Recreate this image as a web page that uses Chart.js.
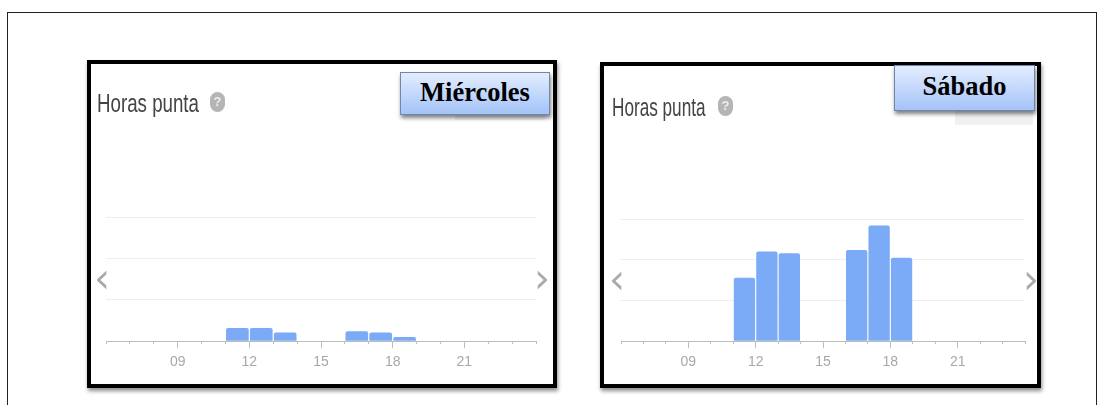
<!DOCTYPE html>
<html lang="es">
<head>
  <meta charset="UTF-8" />
  <title>Horas punta</title>
  <script src="https://cdn.jsdelivr.net/npm/chart.js"></script>
  <style>
    html, body { margin: 0; background: #fff; overflow: hidden; width: 1102px; height: 405px; }
    #marco { position: absolute; left: 7px; top: 12px; width: 1088px; height: 420px; border: 1px solid #222; }
    .panel { position: absolute; box-sizing: border-box; border: 4px solid #000; background: #fff; box-shadow: 1px 3px 4px rgba(0,0,0,.45); }
    .titulo { position: absolute; font-family: "Liberation Sans", sans-serif; font-size: 26px; color: #444; white-space: nowrap; filter: blur(.5px); transform-origin: left top; }
    .ayuda { position: absolute; width: 15px; height: 20px; border-radius: 8px; background: #b5b5b5; color: #eee; font: bold 13px/20px "Liberation Sans", sans-serif; text-align: center; filter: blur(.4px); }
    .flecha { position: absolute; font-family: "DejaVu Sans", sans-serif; font-size: 40px; line-height: 40px; color: #aaa; filter: blur(.3px); }
    .dia { position: absolute; box-sizing: border-box; border: 1px solid #6f87ad; background: linear-gradient(#e3edfe, #a4c3f8); box-shadow: 1px 3px 4px rgba(0,0,0,.5); font: bold 26.5px "Liberation Serif", serif; color: #000; text-align: center; }
    .resto { position: absolute; background: #f1f1f1; }
    canvas { position: absolute; filter: blur(.35px); }
  </style>
</head>
<body>
  <div id="marco"></div>

  <div class="panel" style="left:87px;top:60px;width:470px;height:328px"></div>
  <div class="titulo" style="left:97px;top:88px;transform:scaleX(.72)">Horas punta</div>
  <div class="ayuda" style="left:210px;top:92px">?</div>
  <canvas id="graficoMiercoles" width="456" height="170"></canvas>
  <div class="flecha" style="left:94px;top:258px">‹</div>
  <div class="flecha" style="left:534px;top:258px">›</div>
  <div class="resto" style="left:455px;top:112px;width:90px;height:8px"></div>
  <div class="dia" style="left:400px;top:72px;width:150px;height:43px;line-height:39px">Miércoles</div>

  <div class="panel" style="left:600px;top:62px;width:441px;height:326px"></div>
  <div class="titulo" style="left:612px;top:92px;transform:scaleX(.66)">Horas punta</div>
  <div class="ayuda" style="left:718px;top:96px">?</div>
  <canvas id="graficoSabado" width="430" height="168"></canvas>
  <div class="flecha" style="left:609px;top:259px">‹</div>
  <div class="flecha" style="left:1023px;top:259px">›</div>
  <div class="resto" style="left:955px;top:108px;width:78px;height:17px"></div>
  <div class="dia" style="left:894px;top:65px;width:141px;height:46px;line-height:40px">Sábado</div>

  <script>
    const horas = [6, 7, 8, 9, 10, 11, 12, 13, 14, 15, 16, 17, 18, 19, 20, 21, 22, 23];
    const miercoles = [0, 0, 0, 0, 0, 0.32, 0.32, 0.21, 0, 0, 0.24, 0.21, 0.1, 0, 0, 0, 0, 0];
    const sabado = [0, 0, 0, 0, 0, 1.56, 2.2, 2.16, 0, 0, 2.24, 2.84, 2.05, 0, 0, 0, 0, 0];
    const etiquetas = { 9: '09', 12: '12', 15: '15', 18: '18', 21: '21' };

    function crearGrafico(id, valores, left, top) {
      const canvas = document.getElementById(id);
      canvas.style.left = left + 'px';
      canvas.style.top = top + 'px';
      return new Chart(canvas, {
        type: 'bar',
        data: {
          datasets: [{
            // cada barra ocupa su hora entera
            data: horas.map((h, i) => ({ x: h + 0.5, y: valores[i] })),
            backgroundColor: '#7baaf7',
            borderRadius: { topLeft: 2, topRight: 2 },
            borderSkipped: 'bottom',
            barPercentage: 1,
            categoryPercentage: 0.95
          }]
        },
        options: {
          responsive: false,
          animation: false,
          layout: { padding: { top: 10, right: 20, left: 0, bottom: 0 } },
          plugins: { legend: { display: false }, tooltip: { enabled: false } },
          scales: {
            x: {
              type: 'linear',
              min: 6,
              max: 24,
              offset: false,
              grid: {
                offset: false,
                drawOnChartArea: false,
                tickLength: 7,
                tickColor: '#bdbdbd',
                // las horas sin etiqueta llevan una marca corta
                tickBorderDash: c => (c.tick && etiquetas[c.tick.value] ? [] : [2, 10])
              },
              border: { color: '#bdbdbd', width: 1 },
              ticks: {
                stepSize: 1,
                autoSkip: false,
                maxRotation: 0,
                padding: 6,
                color: '#a8a8a8',
                font: { family: '"Liberation Sans", sans-serif', size: 14 },
                callback: v => etiquetas[v] || ''
              }
            },
            y: {
              min: 0,
              max: 3,
              grid: { color: '#eeeeee', drawTicks: false },
              border: { display: false },
              ticks: { display: false, stepSize: 1 }
            }
          }
        }
      });
    }

    crearGrafico('graficoMiercoles', miercoles, 100, 207);
    crearGrafico('graficoSabado', sabado, 615, 209);
  </script>
</body>
</html>
